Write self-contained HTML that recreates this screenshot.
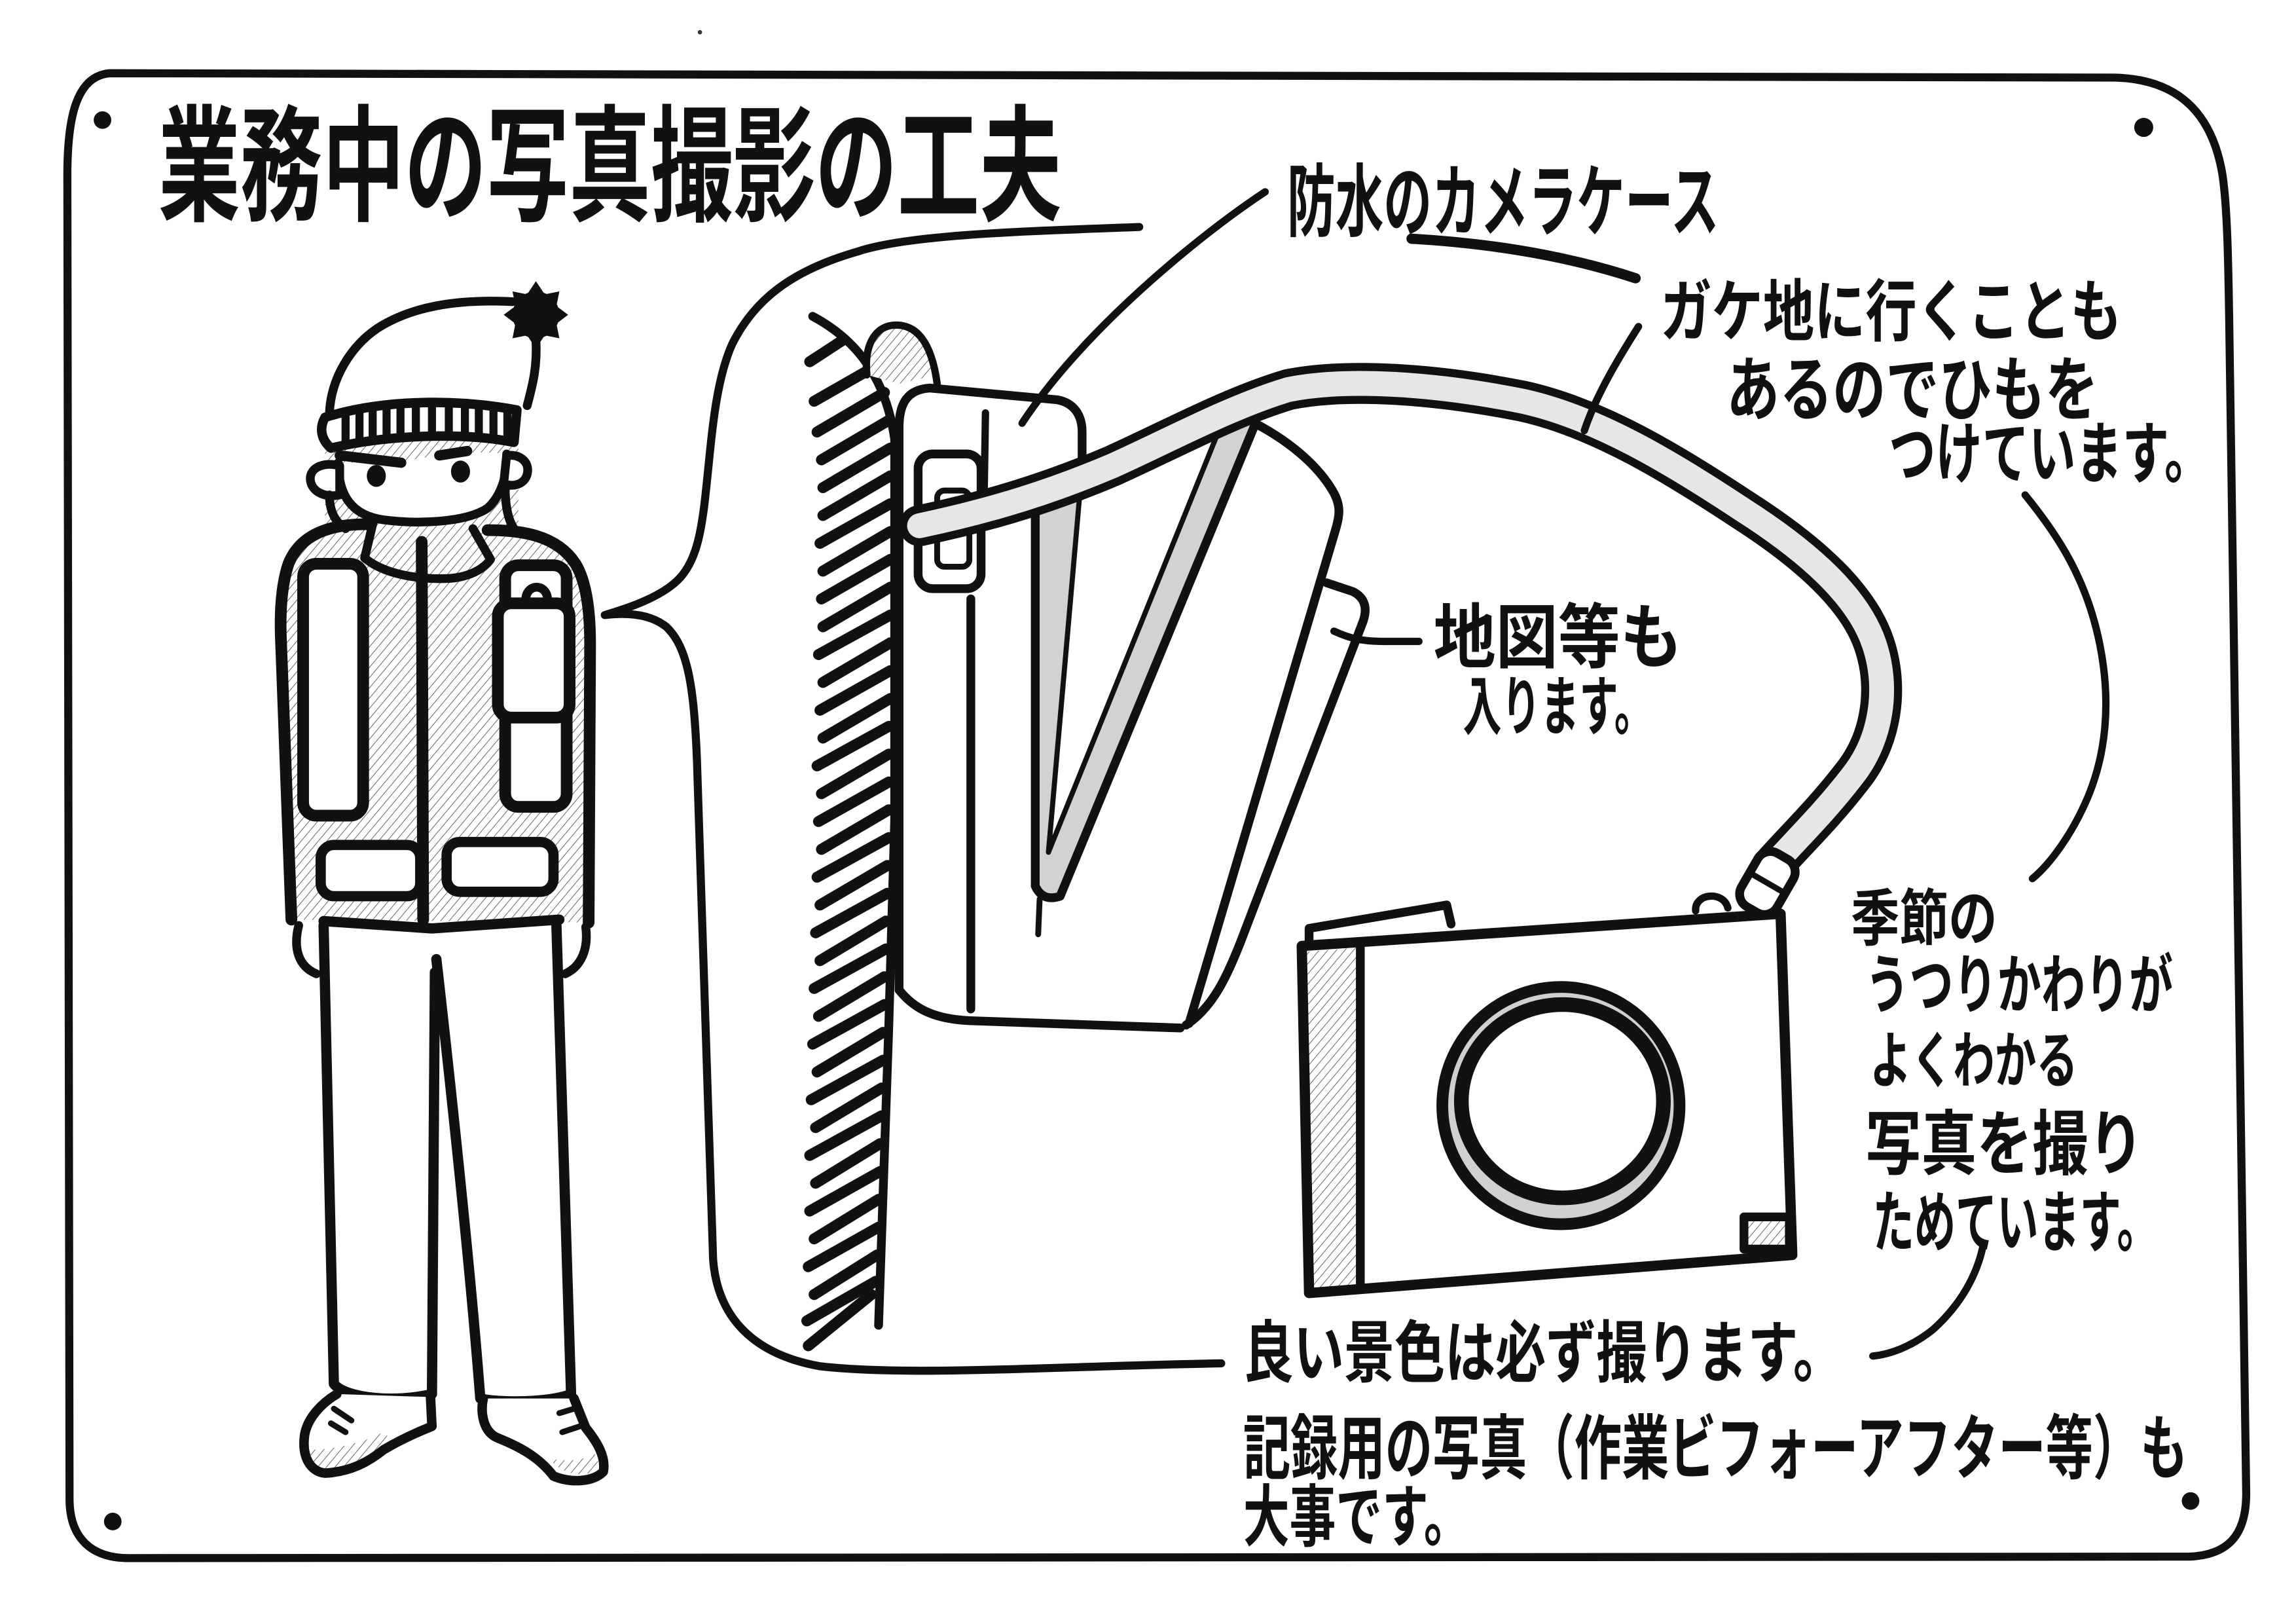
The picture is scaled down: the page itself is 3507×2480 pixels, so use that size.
<!DOCTYPE html>
<html><head><meta charset="utf-8">
<style>
html,body{margin:0;padding:0;background:#fff;}
svg{display:block;}
text{font-family:"Liberation Sans","Noto Sans CJK JP",sans-serif;font-weight:700;fill:#111;}
.s{fill:none;stroke:#111;stroke-linecap:round;stroke-linejoin:round;}
</style></head><body>
<svg xmlns="http://www.w3.org/2000/svg" width="3507" height="2480" viewBox="0 0 1568 1109" preserveAspectRatio="none">
<defs>
<pattern id="h" width="4.5" height="4.5" patternUnits="userSpaceOnUse" patternTransform="rotate(40)">
<rect width="4.5" height="4.5" fill="#fff"/><line x1="0" y1="0" x2="0" y2="4.5" stroke="#666" stroke-width="0.9"/></pattern>
</defs>
<rect width="1568" height="1109" fill="#fff"/>
<circle cx="478" cy="22" r="1.5" fill="#333"/>

<!-- frame -->
<path class="s" stroke-width="5.5" d="M75,50 C400,47 900,52 1444,53 C1490,54 1510,80 1517,115 C1522,140 1522,200 1523,260 L1534,1020 C1534,1050 1520,1062 1495,1063 L88,1064 C62,1064 48,1050 47.5,1025 L46,120 C46,80 52,52 75,50 Z"/>
<circle cx="70" cy="82" r="6" fill="#111"/>
<circle cx="1464" cy="87" r="6.5" fill="#111"/>
<circle cx="77" cy="1039" r="6" fill="#111"/>
<circle cx="1496" cy="1025" r="6" fill="#111"/>

<!-- title -->
<text x="108" y="144" font-size="86" textLength="617" lengthAdjust="spacingAndGlyphs">業務中の写真撮影の工夫</text>

<!-- speech bubble -->
<path class="s" stroke-width="5.5" d="M778,155 C700,158 620,160 585,172 C540,185 515,205 500,235 C488,262 486,300 482,336 C479,365 475,385 462,397 C450,408 430,415 413,420 C430,418 445,420 455,428 C470,442 474,470 476,520 L487,860 C490,900 515,925 560,933 C620,940 720,933 834,931"/>

<!-- cliff -->
<path class="s" stroke-width="6" d="M555,216 C585,232 605,258 611,300 L611,560 L607,700 L600,905"/>
<g class="s" stroke-width="7.5">
<path d="M553,247 L576,232"/><path d="M556,274 L598,250"/>
<path d="M558,295 L604,268"/><path d="M561,314 L607,287"/><path d="M562,333 L608,306"/>
<path d="M562,352 L608,325"/><path d="M560,371 L608,344"/><path d="M562,390 L608,363"/>
<path d="M561,409 L608,382"/><path d="M562,428 L608,401"/><path d="M559,447 L608,420"/>
<path d="M562,466 L608,439"/><path d="M560,485 L608,458"/><path d="M562,504 L608,477"/>
<path d="M558,523 L607,496"/><path d="M561,542 L607,515"/><path d="M559,561 L607,534"/>
<path d="M561,580 L607,553"/><path d="M558,599 L607,572"/><path d="M560,618 L606,591"/>
<path d="M557,637 L606,610"/><path d="M560,656 L605,629"/><path d="M556,675 L605,648"/>
<path d="M559,694 L604,667"/><path d="M555,713 L604,686"/><path d="M558,732 L603,705"/>
<path d="M554,751 L603,724"/><path d="M557,770 L602,743"/><path d="M553,789 L602,762"/>
<path d="M557,808 L601,781"/><path d="M553,827 L601,800"/><path d="M556,846 L600,819"/>
<path d="M552,865 L600,838"/><path d="M556,884 L599,857"/><path d="M551,902 L598,875"/>
<path d="M552,919 L595,884"/>
</g>

<!-- bag -->
<path d="M614,676 L614,292 C614,275 620,266 635,265 L722,273 C733,275 739,283 739,295 L739,312 L851,287 C880,300 900,318 910,335 L931,405 L850,636 C838,668 828,688 810,700 L660,697 C640,696 625,690 614,676 Z" style="fill:#fff"/>
<path d="M592,256 C590,235 598,222 612,222 C625,222 636,232 640,256 L614,262 Z" style="fill:url(#h)"/>
<path class="s" stroke-width="5" d="M592,256 C590,235 598,222 612,222 C625,222 636,232 640,262"/>
<path class="s" stroke-width="6" d="M614,676 L614,292 C614,275 620,266 635,265 L722,273 C733,275 739,283 739,295 L739,314"/>
<path class="s" stroke-width="6" d="M851,286 C880,300 900,318 910,335 C916,345 915,352 912,362 L812,699"/>
<path class="s" stroke-width="6" d="M614,676 C625,690 640,696 662,697 L806,702"/>
<path class="s" stroke-width="6" d="M906,398 L924,404 C932,408 934,415 931,424 L850,636 C838,668 828,688 810,700"/>
<path class="s" stroke-width="5" d="M911,431 C922,436 930,438 945,438 L969,438"/>
<!-- V zipper -->
<path d="M707,350 L707,605 Q712,616 724,612 L857,290 L834,290 L716,580 L737,342 Z" style="fill:#d2d2d2"/>
<path class="s" stroke-width="6" d="M707,352 L707,605 Q712,616 724,612 L857,290"/>
<path class="s" stroke-width="3.5" d="M737,342 L716,582 L834,290"/>
<path class="s" stroke-width="4" d="M710,614 L709,638"/>
<path class="s" stroke-width="6" d="M663,409 L663,689"/>
<path class="s" stroke-width="5" d="M673,282 L672,344"/>
<!-- buckle -->
<rect x="627" y="310" width="43" height="92" rx="10" class="s" style="fill:#fff" stroke-width="6"/>
<rect x="640" y="335" width="22" height="52" rx="5" class="s" stroke-width="4"/>
<!-- strap -->
<path class="s" stroke-width="28" d="M628,359 C680,348 720,335 760,318 C800,300 840,278 880,266 C920,258 980,262 1040,274 C1090,285 1140,315 1190,348 C1240,380 1270,410 1280,440 C1290,470 1285,505 1265,530 C1245,556 1225,575 1210,592"/>
<path fill="none" stroke="#e6e6e6" stroke-width="17" stroke-linecap="round" d="M628,359 C680,348 720,335 760,318 C800,300 840,278 880,266 C920,258 980,262 1040,274 C1090,285 1140,315 1190,348 C1240,380 1270,410 1280,440 C1290,470 1285,505 1265,530 C1245,556 1225,575 1210,592"/>

<!-- leaders -->
<path class="s" stroke-width="5" d="M864,131 C820,160 740,225 698,289"/>
<path class="s" stroke-width="7" d="M964,163 Q1050,168 1117,190"/>
<path class="s" stroke-width="5" d="M1119,223 C1105,245 1090,270 1082,294"/>
<path class="s" stroke-width="5" d="M1383,338 C1405,365 1425,395 1434,440 C1442,480 1438,515 1426,544 C1415,570 1400,590 1388,600"/>
<path class="s" stroke-width="5" d="M1354,852 C1350,870 1340,890 1320,908 C1305,920 1290,925 1279,926"/>

<!-- camera -->
<path class="s" stroke-width="6" d="M894,646 L894,634 L988,618 L991,631"/>
<path class="s" stroke-width="5" d="M1158,622 C1157,610 1177,608 1180,620"/>
<path d="M889,646 L1216,624 L1224,857 L894,883 Z" style="fill:#fff"/>
<path d="M892,650 L928,647 L929,879 L896,881 Z" style="fill:url(#h)"/>
<path class="s" stroke-width="7" d="M889,646 L1216,624 L1224,857 L894,883 Z"/>
<path class="s" stroke-width="6" d="M929,647 L929,879"/>
<circle cx="1066" cy="755" r="81" class="s" style="fill:#d0d0d0" stroke-width="8"/>
<ellipse cx="1067" cy="752" rx="69" ry="66" class="s" style="fill:#fff" stroke-width="10"/>
<rect x="1191" y="831" width="31" height="22" class="s" style="fill:url(#h)" stroke-width="6"/>
<g transform="translate(1207,603) rotate(30)">
<rect x="-14" y="-21" width="28" height="42" rx="10" class="s" style="fill:#fff" stroke-width="6"/>
<path class="s" stroke-width="4" d="M-12,0 L12,0"/>
</g>

<!-- person: hatched fills -->
<path d="M250,357 C225,358 205,365 197,385 C192,400 191,420 192,440 L198,628 L402,630 L403,440 C403,420 401,398 393,385 C380,365 355,361 333,362 Z" style="fill:url(#h)"/>
<rect x="222" y="300" width="132" height="85" style="fill:url(#h)"/>
<!-- face -->
<path d="M231,316 C231,338 240,352 262,355 C285,358 318,357 333,347 C343,338 347,322 346,310 C330,308 305,309 292,312 C275,316 250,316 231,316 Z" style="fill:#fff"/>
<path class="s" stroke-width="6" d="M231,316 C231,338 240,352 262,355 C285,358 318,357 333,347 C343,338 347,322 346,310"/>
<path class="s" stroke-width="7" d="M232,311 L274,316"/>
<path class="s" stroke-width="7" d="M300,311 L319,308"/>
<path d="M232,318 C220,315 211,320 212,328 C213,336 222,340 232,338 Z" class="s" style="fill:#fff" stroke-width="6"/>
<path d="M346,311 C356,310 362,316 360,324 C358,331 350,333 344,330 Z" class="s" style="fill:#fff" stroke-width="6"/>
<ellipse cx="257" cy="325" rx="6.5" ry="7.5" fill="#111"/>
<ellipse cx="314.5" cy="322" rx="6.5" ry="7.5" fill="#111"/>
<path class="s" stroke-width="6" d="M225,338 C225,348 228,356 236,361"/>
<path class="s" stroke-width="6" d="M345,333 C345,345 347,355 351,361"/>
<!-- hat -->
<path d="M225,280 C226,258 240,236 258,224 C280,210 310,204 350,206 L366,234 C366,250 364,262 360,277 Z" style="fill:#fff"/>
<path class="s" stroke-width="6" d="M225,282 C226,258 240,236 258,224 C280,210 310,204 350,206"/>
<path class="s" stroke-width="6" d="M366,232 C367,250 364,262 360,277"/>
<path d="M222,285 C260,273 310,272 353,280 L351,302 C315,295 265,297 226,306 Z" style="fill:#fff"/>
<g stroke="#111" stroke-width="5.5">
<line x1="236" y1="280" x2="236" y2="302"/><line x1="245.5" y1="279" x2="245.5" y2="301"/>
<line x1="254.5" y1="278" x2="254.5" y2="300"/><line x1="264" y1="277" x2="264" y2="299"/>
<line x1="273.5" y1="276" x2="273.5" y2="298"/><line x1="284" y1="276" x2="284" y2="298"/>
<line x1="295" y1="276" x2="295" y2="298"/><line x1="306.5" y1="276" x2="306.5" y2="298"/>
<line x1="317.5" y1="277" x2="317.5" y2="299"/><line x1="327" y1="277" x2="327" y2="299"/>
<line x1="337" y1="278" x2="337" y2="300"/><line x1="346.5" y1="279" x2="346.5" y2="301"/>
</g>
<path class="s" stroke-width="6.5" d="M222,285 C260,273 310,272 353,280 L351,302 C315,295 265,297 226,306 C219,300 218,292 222,285 Z"/>
<polygon fill="#111" points="388,215 380,221 382,231 372,229 366,238 360,229 350,231 352,221 344,215 352,209 350,199 360,201 366,192 372,201 382,199 380,209"/>
<circle cx="366" cy="215" r="16" fill="#111"/>
<!-- collar -->
<path class="s" stroke-width="6" d="M255,356 L249,381 C262,392 285,396 307,395 C320,394 330,389 335,382 L323,361"/>
<!-- jacket outline -->
<path class="s" stroke-width="8" d="M250,358 C225,358 205,365 197,385 C192,400 191,420 192,440 L199,628"/>
<path class="s" stroke-width="8" d="M333,362 C355,362 380,365 393,385 C401,398 403,420 403,440 L402,630"/>
<!-- straps -->
<rect x="207" y="385" width="41" height="172" rx="9" class="s" style="fill:#fff" stroke-width="8"/>
<rect x="345" y="386" width="42" height="165" rx="9" class="s" style="fill:#fff" stroke-width="8"/>
<rect x="340" y="412" width="49" height="78" rx="9" class="s" style="fill:#fff" stroke-width="8"/>
<path class="s" stroke-width="6" d="M359,410 C359,398 374,398 374,410"/>
<!-- zipper -->
<path class="s" stroke-width="8" d="M288,370 L289,628"/>
<!-- pockets -->
<rect x="219" y="577" width="68" height="35" rx="9" class="s" style="fill:#fff" stroke-width="7"/>
<rect x="305" y="575" width="73" height="34" rx="9" class="s" style="fill:#fff" stroke-width="7"/>
<path class="s" stroke-width="7" d="M221,629 L295,634 L382,628"/>
<!-- hands -->
<path class="s" stroke-width="6" d="M204,632 C200,648 204,660 216,665"/>
<path class="s" stroke-width="6" d="M400,633 C402,648 397,660 386,665"/>
<!-- pants -->
<path class="s" stroke-width="7" d="M221,632 L228,945 C236,955 270,958 295,952 L297,664"/>
<path class="s" stroke-width="7" d="M298,655 C302,690 320,850 328,955 C340,958 375,958 390,952 L380,632"/>
<!-- shoes -->
<path d="M230,952 C220,958 210,968 208,980 C206,995 212,1005 222,1006 C240,1005 252,998 262,990 C272,984 285,978 295,974 L294,954 Z" style="fill:#fff"/>
<path d="M210,990 C212,1003 220,1006 230,1004 C245,998 258,990 268,984 L262,978 C248,985 230,990 210,990 Z" style="fill:url(#h)"/>
<path class="s" stroke-width="6.5" d="M230,952 C220,958 210,968 208,980 C206,995 212,1005 222,1006 C240,1005 252,998 262,990 C272,984 285,978 295,974 L294,954"/>
<path class="s" stroke-width="4" d="M228,962 L240,970 M226,972 L236,978"/>
<path d="M330,955 C328,965 330,978 340,982 C355,988 368,995 378,1008 C390,1013 405,1012 412,1005 C414,995 408,985 400,975 L392,955 Z" style="fill:#fff"/>
<path d="M375,996 C385,1008 400,1010 410,1002 L406,992 C398,998 388,998 375,996 Z" style="fill:url(#h)"/>
<path class="s" stroke-width="6.5" d="M330,955 C328,965 330,978 340,982 C355,988 368,995 378,1008 C390,1013 405,1012 412,1005 C414,995 408,985 400,975 L392,955"/>
<path class="s" stroke-width="4" d="M382,965 L392,962 M384,978 L396,974"/>

<!-- labels -->
<text x="879" y="157" font-size="54" textLength="295" lengthAdjust="spacingAndGlyphs">防水のカメラケース</text>
<text x="1134" y="229" font-size="46" textLength="315" lengthAdjust="spacingAndGlyphs">ガケ地に行くことも</text>
<text x="1179" y="283" font-size="48" textLength="254" lengthAdjust="spacingAndGlyphs">あるのでひもを</text>
<text x="1290" y="326" font-size="46" textLength="220" lengthAdjust="spacingAndGlyphs">つけています。</text>
<text x="979" y="452" font-size="48" textLength="170" lengthAdjust="spacingAndGlyphs">地図等も</text>
<text x="999" y="498" font-size="44" textLength="130" lengthAdjust="spacingAndGlyphs">入ります。</text>
<text x="1264" y="642" font-size="42" textLength="100" lengthAdjust="spacingAndGlyphs">季節の</text>
<text x="1274" y="688" font-size="44" textLength="210" lengthAdjust="spacingAndGlyphs">うつりかわりが</text>
<text x="1277" y="739" font-size="42" textLength="142" lengthAdjust="spacingAndGlyphs">よくわかる</text>
<text x="1274" y="798" font-size="48" textLength="190" lengthAdjust="spacingAndGlyphs">写真を撮り</text>
<text x="1279" y="851" font-size="46" textLength="195" lengthAdjust="spacingAndGlyphs">ためています。</text>
<text x="849" y="940" font-size="46" textLength="410" lengthAdjust="spacingAndGlyphs">良い景色は必ず撮ります。</text>
<text x="849" y="1006" font-size="48" textLength="645" lengthAdjust="spacingAndGlyphs">記録用の写真（作業ビフォーアフター等）も</text>
<text x="849" y="1052" font-size="46" textLength="155" lengthAdjust="spacingAndGlyphs">大事です。</text>
</svg>
</body></html>
